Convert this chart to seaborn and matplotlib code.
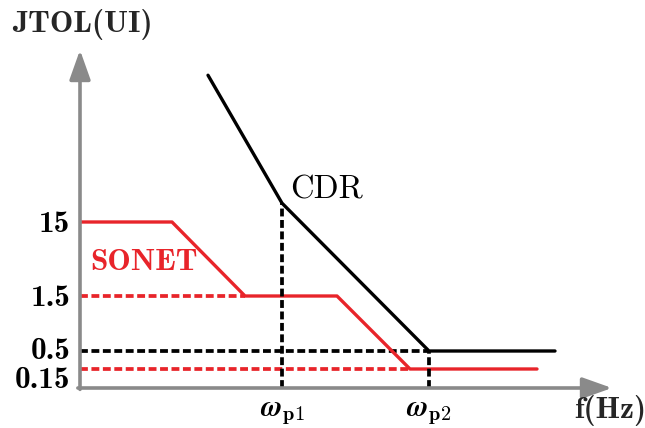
import numpy as np
import pandas as pd
import matplotlib
matplotlib.use("Agg")
import matplotlib.pyplot as plt
import seaborn as sns
from matplotlib.transforms import ScaledTranslation

sns.set_theme(style="white")
plt.rcParams["font.family"] = ["cmb10", "DejaVu Serif"]
plt.rcParams["mathtext.fontset"] = "cm"
plt.rcParams["axes.unicode_minus"] = False

# jitter tolerance levels (UI) marked on the y axis
ui_levels = [0.15, 0.5, 1.5, 15]
ui_labels = ["0.15", "0.5", "1.5", "15"]

# corner frequencies (schematic log-frequency units)
w_p1 = 20.2
w_p2 = 34.9
freq_ticks = [w_p1, w_p2]
freq_labels = [r"$\boldsymbol{\omega}_{\mathbf{p1}}$", r"$\boldsymbol{\omega}_{\mathbf{p2}}$"]

# SONET jitter tolerance mask
sonet_f = [0.0, 9.2, 16.5, 25.7, 33.0, 45.7]
sonet_ui = [15, 15, 1.5, 1.5, 0.15, 0.15]

# CDR jitter tolerance
cdr_f = [12.8, w_p1, w_p2, 47.5]
cdr_ui = [800, 25, 0.5, 0.5]

RED = "#e8242a"
GREY = "#8a8a8a"
BOLD = ["cmb10", "DejaVu Serif"]
REGULAR = ["cmr10", "DejaVu Serif"]

# schematic (piecewise log) scale for the UI axis
LOG_KNOTS = np.array([-1.6, np.log10(0.15), np.log10(0.5), np.log10(1.5), np.log10(15), 3.2])
POS_KNOTS = np.array([0.0, 19.0, 37.0, 92.0, 166.0, 338.0])


def fwd(v):
    v = np.asarray(v, dtype=float)
    return np.interp(np.log10(np.clip(v, 1e-9, None)), LOG_KNOTS, POS_KNOTS)


def inv(p):
    return 10 ** np.interp(np.asarray(p, dtype=float), POS_KNOTS, LOG_KNOTS)


fig = plt.figure(figsize=(6.45, 4.28), dpi=100)
ax = fig.add_axes([80 / 645, 40 / 428, 532 / 645, 338 / 428])
ax.set_yscale("function", functions=(fwd, inv))
ax.set_xlim(0, 53.2)
y_lo, y_hi = 10 ** -1.6, 10 ** 3.2
ax.set_ylim(y_lo, y_hi)

dash = (0, (2.1, 0.95))


def seg(xs, ys, color, style="-", lw=2.4, z=2):
    df = pd.DataFrame({"f": xs, "ui": ys})
    sns.lineplot(data=df, x="f", y="ui", ax=ax, estimator=None, sort=False,
                 color=color, linestyle=style, linewidth=lw, zorder=z)


# reference levels and corner-frequency guides
seg([0, sonet_f[2]], [sonet_ui[2], sonet_ui[2]], RED, dash, 2.7, 1)
seg([0, sonet_f[4]], [sonet_ui[4], sonet_ui[4]], RED, dash, 2.7, 1)
seg([0, w_p2], [cdr_ui[2], cdr_ui[2]], "black", dash, 2.7, 1)
seg([w_p1, w_p1], [y_lo, cdr_ui[1]], "black", dash, 2.7, 3)
seg([w_p2, w_p2], [y_lo, cdr_ui[2]], "black", dash, 2.7, 3)

# tolerance curves
seg(sonet_f, sonet_ui, RED, "-", 2.4, 2)
seg(cdr_f, cdr_ui, "black", "-", 2.4, 2)

for s in ax.spines.values():
    s.set_visible(False)
ax.set_xlabel("")
ax.set_ylabel("")

ax.set_yticks(ui_levels, ui_labels)
ax.set_xticks(freq_ticks, freq_labels)
ax.tick_params(axis="y", length=0, pad=7, labelsize=22.5, colors="black")
ax.tick_params(axis="x", length=0, pad=9, labelsize=21, colors="black")
ax.yaxis.set_minor_locator(matplotlib.ticker.NullLocator())
for lab in ax.get_yticklabels():
    lab.set_fontfamily(BOLD)

# keep the two lowest labels apart
ylabs = ax.get_yticklabels()
ylabs[0].set_transform(ylabs[0].get_transform() + ScaledTranslation(0, -6 / 72, fig.dpi_scale_trans))
ylabs[1].set_transform(ylabs[1].get_transform() + ScaledTranslation(0, 2 / 72, fig.dpi_scale_trans))

# axis arrows
arrow = dict(arrowstyle="-|>,head_length=0.9,head_width=0.32", color=GREY, lw=2.6,
             shrinkA=0, shrinkB=0, mutation_scale=20)
ax.annotate("", xy=(1, 0), xytext=(-0.004, 0), xycoords="axes fraction", arrowprops=arrow, zorder=5)
ax.annotate("", xy=(0, 1), xytext=(0, -0.004), xycoords="axes fraction", arrowprops=arrow, zorder=5)

# labels
fig.text(12 / 645, 1 - 24 / 428, "JTOL(UI)", family=BOLD, fontsize=22.5, ha="left", va="center")
fig.text(610 / 645, 1 - 411 / 428, "f(Hz)", family=BOLD, fontsize=22.5, ha="center", va="center")
ax.text(10 / 532, 126 / 338, "SONET", family=BOLD, color=RED, fontsize=22.5,
        ha="left", va="center", transform=ax.transAxes)
ax.text(210 / 532, 198 / 338, "CDR", family=REGULAR, color="black", fontsize=23.5,
        ha="left", va="center", transform=ax.transAxes)

fig.savefig("out.png", dpi=100)
